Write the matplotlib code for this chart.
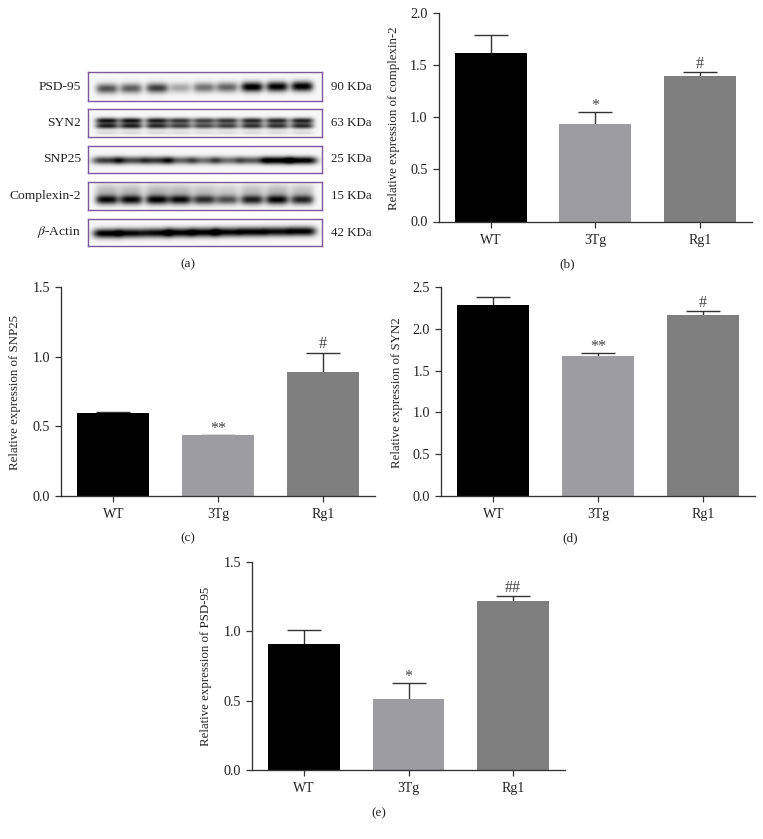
import numpy as np
import matplotlib
matplotlib.use("Agg")
import matplotlib.pyplot as plt

plt.rcParams["font.family"] = ["Liberation Serif", "DejaVu Serif"]
plt.rcParams["mathtext.fontset"] = "stix"

W, H = 763, 839

groups = ["WT", "3Tg", "Rg1"]
bar_colors = ["#000000", "#9d9da1", "#7f7f7f"]

complexin_vals = [1.62, 0.94, 1.40]
complexin_tops = [1.79, 1.05, 1.43]
complexin_marks = ["", "*", "#"]
complexin_ticks = [0.0, 0.5, 1.0, 1.5, 2.0]

snp25_vals = [0.595, 0.435, 0.89]
snp25_tops = [0.605, 0.44, 1.03]
snp25_marks = ["", "**", "#"]
snp25_ticks = [0.0, 0.5, 1.0, 1.5]

syn2_vals = [2.29, 1.68, 2.17]
syn2_tops = [2.38, 1.71, 2.21]
syn2_marks = ["", "**", "#"]
syn2_ticks = [0.0, 0.5, 1.0, 1.5, 2.0, 2.5]

psd95_vals = [0.91, 0.51, 1.22]
psd95_tops = [1.01, 0.63, 1.25]
psd95_marks = ["", "*", "##"]
psd95_ticks = [0.0, 0.5, 1.0, 1.5]

# blot band strength per lane
blot_names = ["PSD-95", "SYN2", "SNP25", "Complexin-2", r"$\beta$-Actin"]
blot_sizes = ["90 KDa", "63 KDa", "25 KDa", "15 KDa", "42 KDa"]
psd95_bands = [0.62, 0.58, 0.70, 0.30, 0.50, 0.55, 0.98, 0.95, 0.98]
syn2_bands = [0.85, 0.85, 0.82, 0.72, 0.68, 0.72, 0.78, 0.78, 0.80]
snp25_bands = [0.72, 0.66, 0.74, 0.56, 0.52, 0.52, 0.60, 1.0, 0.98]
complexin_bands = [0.88, 0.88, 0.92, 0.88, 0.75, 0.62, 0.80, 0.90, 0.78]
actin_bands = [0.98, 0.92, 0.92, 0.95, 0.95, 0.92, 0.95, 0.90, 0.95]
lane_x = [107, 131, 157, 180, 204, 227, 252, 277, 302]


def px_axes(left, top, right, bottom):
    return fig.add_axes([left / W, 1 - bottom / H, (right - left) / W, (bottom - top) / H])


def fig_text(x, y, s, **kw):
    fig.text(x / W, 1 - y / H, s, va="center", **kw)


def bar_panel(box, vals, tops, marks, yticks, ylabel, label, label_x, label_y, ylabel_x):
    ax = px_axes(*box)
    x = np.arange(3)
    ax.bar(x, vals, width=0.69, color=bar_colors, zorder=2)
    errs = np.array(tops) - np.array(vals)
    _, caps, _ = ax.errorbar(x, vals, yerr=[np.zeros(3), errs], fmt="none", ecolor="#333333",
                             elinewidth=1.0, capsize=12.5, capthick=1.0, zorder=1)
    caps[0].set_visible(False)
    ax.set_xlim(-0.5, 2.5)
    ax.set_ylim(yticks[0], yticks[-1])
    ax.set_xticks(x)
    ax.set_xticklabels(groups, fontsize=10)
    ax.set_yticks(yticks)
    ax.set_yticklabels([f"{t:.1f}" for t in yticks], fontsize=10.2)
    ax.tick_params(length=4.4, width=0.9, color="#333333", labelcolor="#222222", pad=3.5)
    ax.tick_params(axis="x", pad=4.5)
    ax.spines["top"].set_visible(False)
    ax.spines["right"].set_visible(False)
    for side in ["left", "bottom"]:
        ax.spines[side].set_color("#333333")
        ax.spines[side].set_linewidth(0.95)
    for i, m in enumerate(marks):
        if m:
            off = -1.5 if "*" in m else 0.5
            ax.annotate(m, (i, tops[i]), xytext=(0, off), textcoords="offset points",
                        ha="center", va="bottom", fontsize=11.5, color="#444444")
    fig_text(ylabel_x, (box[1] + box[3]) / 2 + 1, ylabel, rotation=90, ha="center",
             fontsize=9.3, color="#222222")
    fig_text(label_x, label_y, label, ha="center", fontsize=9.5, color="#222222")
    return ax


def blot_strip(top, bottom, strengths, centers, widths, lane_w, tilt, smear=0.0):
    # gray strip built from the band strength of each lane
    h = int((bottom - top) * 4)
    w = (322 - 88) * 4
    yy, xx = np.mgrid[0:h, 0:w]
    xx = xx / 4 + 88
    yy = yy / h
    dark = np.zeros((h, w))
    for lx, s in zip(lane_x, strengths):
        shift = -tilt * (lx - 107)
        for c, sy, k in zip(centers, widths, [1.0, 0.95, 0.14]):
            dark += s * k * np.exp(-((xx - lx) / lane_w) ** 4) * np.exp(-((yy - c - shift) / sy) ** 2)
        if smear:
            dark += smear * s * np.exp(-((xx - lx) / 12) ** 4) * np.exp(-((yy - 0.3) / 0.24) ** 2)
    return np.clip(0.97 - 1.05 * dark, 0, 1)


fig = plt.figure(figsize=(W / 100, H / 100), dpi=100)

# (a) blots
strips = [
    (72, 101, psd95_bands, [0.57], [0.17], 11, 0.0004, 0.0),
    (109, 137, syn2_bands, [0.41, 0.60, 0.84], [0.10, 0.10, 0.07], 11.5, 0.0, 0.0),
    (146, 173, snp25_bands, [0.53], [0.14], 15, 0.0, 0.0),
    (182, 210, complexin_bands, [0.63], [0.17], 11.5, 0.0, 0.25),
    (219, 246, actin_bands, [0.53], [0.17], 14, 0.0004, 0.0),
]
for i, (top, bottom, bands, centers, widths, lane_w, tilt, smear) in enumerate(strips):
    ax = px_axes(88, top, 322, bottom)
    ax.imshow(blot_strip(top, bottom, bands, centers, widths, lane_w, tilt, smear), cmap="gray",
              vmin=0, vmax=1, aspect="auto", interpolation="bilinear")
    ax.set_xticks([])
    ax.set_yticks([])
    for s in ax.spines.values():
        s.set_color("#7a5a9c")
        s.set_linewidth(1.0)
    mid = (top + bottom) / 2
    fig_text(81, mid, blot_names[i], ha="right", fontsize=9.7, color="#222222")
    fig_text(331, mid, blot_sizes[i], ha="left", fontsize=9.3, color="#222222")
fig_text(188, 264, "(a)", ha="center", fontsize=9.5, color="#222222")

# bar panels
bar_panel((438.5, 13, 752, 221.5), complexin_vals, complexin_tops, complexin_marks, complexin_ticks,
          "Relative expression of complexin-2", "(b)", 567, 264, 394)
bar_panel((61, 287.3, 375, 495.7), snp25_vals, snp25_tops, snp25_marks, snp25_ticks,
          "Relative expression of SNP25", "(c)", 188, 538, 15)
bar_panel((441, 287.3, 755, 495.7), syn2_vals, syn2_tops, syn2_marks, syn2_ticks,
          "Relative expression of SYN2", "(d)", 570, 538, 397)
bar_panel((252, 561.7, 565, 770), psd95_vals, psd95_tops, psd95_marks, psd95_ticks,
          "Relative expression of PSD-95", "(e)", 379, 813, 206)

fig.savefig("out.png", dpi=100)
